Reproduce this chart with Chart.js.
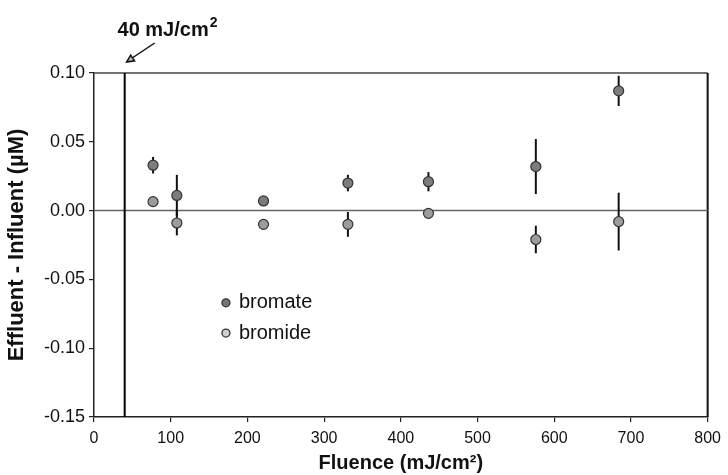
<!DOCTYPE html>
<html><head><meta charset="utf-8">
<script src="https://cdn.jsdelivr.net/npm/chart.js@4.4.0/dist/chart.umd.min.js"></script>
<style>html,body{margin:0;padding:0;background:#fff}#wrap{width:728px;height:475px;position:relative}</style>
</head><body><div id="wrap"><canvas id="c" width="728" height="475"></canvas></div>
<script>
// ---- data ----
const fluence = [77, 108, 221, 331, 436, 576, 684];
const bromate = [0.033, 0.011, 0.007, 0.020, 0.021, 0.032, 0.087];
const bromateErr = [0.006, 0.015, 0.002, 0.006, 0.007, 0.020, 0.011];
const bromide = [0.0065, -0.009, -0.010, -0.010, -0.002, -0.021, -0.008];
const bromideErr = [0.002, 0.009, 0.002, 0.009, 0.002, 0.010, 0.021];
const seriesLabels = ['bromate', 'bromide'];
const markerFluence = 40;
const annotationMain = '40 mJ/cm';
const annotationSup = '2';
const xTicks = [0, 100, 200, 300, 400, 500, 600, 700, 800];
const yTicks = [-0.15, -0.10, -0.05, 0.00, 0.05, 0.10];
const xTitle = 'Fluence (mJ/cm²)';
const yTitle = 'Effluent - Influent (µM)';
const legendAnchor = [{x: 172, y: -0.067}, {x: 172, y: -0.089}];

const FONT = '"Liberation Sans", Arial, sans-serif';
const pointColors = ['#7c7c7c', '#9c9c9c'];

const errs = [bromateErr, bromideErr];

const errorBarPlugin = {
  id: 'errbars',
  beforeDatasetsDraw(chart) {
    const {ctx, scales: {x, y}, chartArea: a} = chart;
    ctx.save();
    // frame top & right
    ctx.strokeStyle = '#444';
    ctx.lineWidth = 1.5;
    ctx.beginPath();
    ctx.moveTo(a.left, a.top); ctx.lineTo(a.right, a.top);
    ctx.stroke();
    ctx.strokeStyle = '#111';
    ctx.lineWidth = 2;
    ctx.beginPath();
    ctx.moveTo(a.right, a.top); ctx.lineTo(a.right, a.bottom);
    ctx.stroke();
    // zero line
    const y0 = y.getPixelForValue(0);
    ctx.strokeStyle = '#666';
    ctx.lineWidth = 1.5;
    ctx.beginPath(); ctx.moveTo(a.left, y0); ctx.lineTo(a.right, y0); ctx.stroke();
    // 40 mJ/cm2 line
    const xm = x.getPixelForValue(markerFluence);
    ctx.strokeStyle = '#000';
    ctx.lineWidth = 2;
    ctx.beginPath(); ctx.moveTo(xm, a.top); ctx.lineTo(xm, a.bottom); ctx.stroke();
    // error bars
    ctx.strokeStyle = '#111';
    ctx.lineWidth = 2;
    chart.data.datasets.forEach((ds, di) => {
      ds.data.forEach((p, i) => {
        const e = errs[di][i];
        const px = x.getPixelForValue(p.x);
        ctx.beginPath();
        ctx.moveTo(px, y.getPixelForValue(p.y - e));
        ctx.lineTo(px, y.getPixelForValue(p.y + e));
        ctx.stroke();
      });
    });
    ctx.restore();
  },
  afterDraw(chart) {
    const {ctx, scales: {x, y}, chartArea: a} = chart;
    ctx.save();
    // annotation
    ctx.fillStyle = '#111';
    ctx.textBaseline = 'alphabetic';
    ctx.font = 'bold 20px ' + FONT;
    const wMain = ctx.measureText(annotationMain).width;
    ctx.font = 'bold 14px ' + FONT;
    const wSup = ctx.measureText(annotationSup).width;
    const cx = 167, base = 36;
    const sx = cx - (wMain + wSup) / 2;
    ctx.font = 'bold 20px ' + FONT;
    ctx.textAlign = 'left';
    ctx.fillText(annotationMain, sx, base);
    ctx.font = 'bold 14px ' + FONT;
    ctx.fillText(annotationSup, sx + wMain + 1, base - 9);
    // arrow
    const tipX = x.getPixelForValue(markerFluence) + 2, tipY = a.top - 11;
    const tailX = tipX + 28, tailY = tipY - 19;
    ctx.strokeStyle = '#111'; ctx.lineWidth = 1.5;
    ctx.beginPath(); ctx.moveTo(tailX, tailY); ctx.lineTo(tipX + 4, tipY - 3); ctx.stroke();
    const ang = Math.atan2(tipY - tailY, tipX - tailX);
    ctx.beginPath();
    ctx.moveTo(tipX, tipY);
    ctx.lineTo(tipX - 8 * Math.cos(ang - 0.45), tipY - 8 * Math.sin(ang - 0.45));
    ctx.lineTo(tipX - 8 * Math.cos(ang + 0.45), tipY - 8 * Math.sin(ang + 0.45));
    ctx.closePath();
    ctx.fillStyle = '#bbb'; ctx.fill(); ctx.stroke();
    // legend
    ctx.font = '20px ' + FONT;
    ctx.textBaseline = 'middle';
    chart.data.datasets.forEach((ds, di) => {
      const lx = x.getPixelForValue(legendAnchor[di].x);
      const ly = y.getPixelForValue(legendAnchor[di].y);
      ctx.beginPath();
      ctx.arc(lx, ly, 4, 0, Math.PI * 2);
      ctx.fillStyle = di === 0 ? '#777' : '#cfcfcf';
      ctx.fill();
      ctx.strokeStyle = '#333'; ctx.lineWidth = 1.3; ctx.stroke();
      ctx.fillStyle = '#111';
      ctx.textAlign = 'left';
      ctx.fillText(ds.label, lx + 13, ly);
    });
    ctx.restore();
  }
};

const mk = (vals) => fluence.map((f, i) => ({x: f, y: vals[i]}));

new Chart(document.getElementById('c'), {
  type: 'scatter',
  data: {
    datasets: [
      {label: seriesLabels[0], data: mk(bromate), pointRadius: 5, pointBackgroundColor: pointColors[0], pointBorderColor: '#333', pointBorderWidth: 1.2},
      {label: seriesLabels[1], data: mk(bromide), pointRadius: 5, pointBackgroundColor: pointColors[1], pointBorderColor: '#333', pointBorderWidth: 1.2}
    ]
  },
  options: {
    responsive: false,
    animation: false,
    layout: {padding: {top: 73, right: 18, left: 0, bottom: 0}},
    plugins: {legend: {display: false}, tooltip: {enabled: false}},
    scales: {
      x: {
        type: 'linear', min: 0, max: 800,
        afterBuildTicks: s => { s.ticks = xTicks.map(v => ({value: v})); },
        afterFit: s => { s.height = 58; },
        grid: {drawOnChartArea: false, drawTicks: true, tickLength: 5, color: '#222', lineWidth: 1.2},
        border: {display: true, color: '#222', width: 1.5},
        ticks: {color: '#111', font: {family: FONT, size: 16}, padding: 7, maxRotation: 0, callback: v => String(v)},
        title: {display: true, text: xTitle, color: '#111', font: {family: FONT, size: 20, weight: 'bold'}, padding: {top: 0, bottom: 0}}
      },
      y: {
        type: 'linear', min: -0.15, max: 0.10,
        afterBuildTicks: s => { s.ticks = yTicks.map(v => ({value: v})); },
        afterFit: s => { s.width = 94; },
        grid: {drawOnChartArea: false, drawTicks: true, tickLength: 5, color: '#222', lineWidth: 1.2},
        border: {display: true, color: '#222', width: 1.5},
        ticks: {color: '#111', font: {family: FONT, size: 18}, padding: 4, callback: v => (Math.abs(v) < 1e-9 ? 0 : v).toFixed(2)},
        title: {display: true, text: yTitle, color: '#111', font: {family: FONT, size: 22, weight: 'bold'}, padding: {top: 4, bottom: 0}}
      }
    }
  },
  plugins: [errorBarPlugin]
});
</script>
</body></html>
